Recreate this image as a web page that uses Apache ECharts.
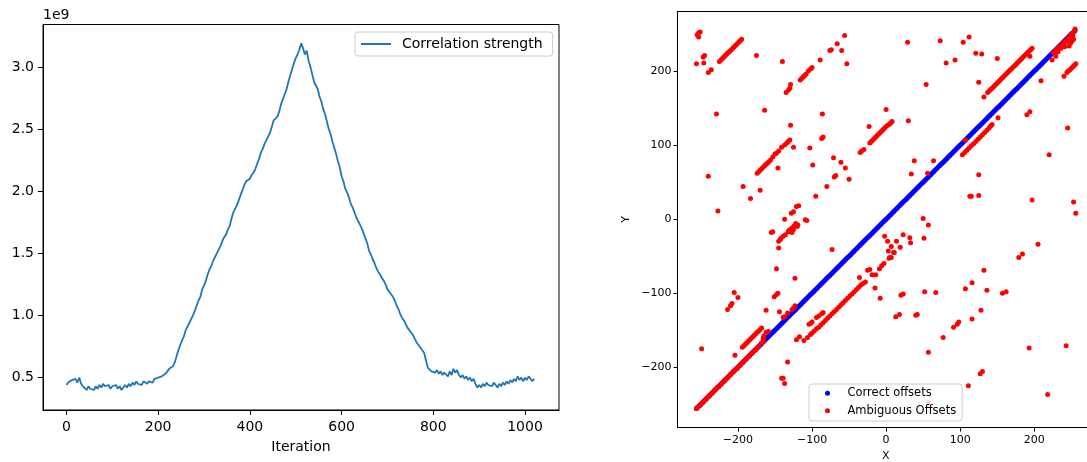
<!DOCTYPE html>
<html><head><meta charset="utf-8">
<script src="https://cdn.jsdelivr.net/npm/echarts@6/dist/echarts.min.js"></script>
<style>html,body{margin:0;padding:0;background:#fff}#c{width:1087px;height:462px}</style>
</head><body><div id="c"></div>
<script>
// ---------- Left panel data ----------
const ITER_STEP = 4; // one sample every 4 iterations
// Correlation strength, in units of 1e9
const strength = [
0.44,0.46,0.45,0.48,0.47,0.49,0.46,0.50,0.45,0.43,
0.42,0.40,0.43,0.41,0.42,0.40,0.43,0.41,0.44,0.42,
0.45,0.43,0.42,0.44,0.41,0.43,0.42,0.44,0.41,0.43,
0.40,0.42,0.44,0.42,0.45,0.43,0.46,0.44,0.47,0.45,
0.46,0.44,0.47,0.46,0.45,0.47,0.48,0.46,0.49,0.48,
0.50,0.49,0.51,0.50,0.53,0.55,0.57,0.58,0.59,0.62,
0.67,0.72,0.76,0.80,0.83,0.88,0.91,0.94,0.97,1.00,
1.04,1.08,1.12,1.15,1.21,1.24,1.28,1.33,1.37,1.40,
1.44,1.47,1.50,1.53,1.56,1.60,1.63,1.65,1.69,1.72,
1.78,1.83,1.86,1.89,1.93,1.97,2.01,2.05,2.08,2.09,
2.10,2.13,2.15,2.18,2.22,2.26,2.31,2.34,2.38,2.41,
2.44,2.47,2.52,2.57,2.58,2.60,2.64,2.70,2.74,2.78,
2.82,2.88,2.93,2.98,3.03,3.07,3.10,3.14,3.19,3.15,
3.10,3.13,3.05,3.00,2.94,2.88,2.85,2.82,2.76,2.72,
2.66,2.62,2.56,2.50,2.46,2.40,2.35,2.30,2.24,2.19,
2.12,2.08,2.02,1.99,1.95,1.90,1.87,1.83,1.79,1.76,
1.73,1.70,1.66,1.62,1.58,1.52,1.49,1.45,1.42,1.38,
1.35,1.33,1.30,1.28,1.25,1.21,1.20,1.17,1.15,1.12,
1.08,1.05,1.01,0.98,0.96,0.93,0.90,0.89,0.86,0.84,
0.81,0.78,0.76,0.74,0.73,0.70,0.64,0.58,0.57,0.55,
0.56,0.54,0.56,0.53,0.55,0.52,0.54,0.53,0.51,0.55,
0.52,0.57,0.54,0.56,0.52,0.50,0.52,0.49,0.51,0.48,
0.50,0.47,0.49,0.45,0.42,0.44,0.42,0.45,0.43,0.46,
0.44,0.45,0.43,0.46,0.44,0.42,0.45,0.43,0.46,0.44,
0.47,0.45,0.48,0.46,0.49,0.47,0.51,0.48,0.50,0.47,
0.50,0.48,0.51,0.49,0.47,0.49
];
const leftXTicks = [0,200,400,600,800,1000];
const leftYTicks = [0.5,1.0,1.5,2.0,2.5,3.0];
const leftSeriesName = 'Correlation strength';

// ---------- Right panel data ----------
const rightTicks = [-200,-100,0,100,200];
const correctOffsets = [
[-256,-256],[-254,-254],[-252,-252],[-250,-250],[-248,-248],[-246,-246],[-244,-244],[-242,-242],
[-240,-240],[-238,-238],[-236,-236],[-234,-234],[-232,-232],[-230,-230],[-228,-228],[-226,-226],
[-224,-224],[-222,-222],[-220,-220],[-218,-218],[-216,-216],[-214,-214],[-212,-212],[-210,-210],
[-208,-208],[-206,-206],[-204,-204],[-202,-202],[-200,-200],[-198,-198],[-196,-196],[-194,-194],
[-192,-192],[-190,-190],[-188,-188],[-186,-186],[-184,-184],[-182,-182],[-180,-180],[-178,-178],
[-176,-176],[-174,-174],[-172,-172],[-170,-170],[-168,-168],[-166,-166],[-164,-164],[-162,-162],
[-160,-160],[-158,-158],[-156,-156],[-154,-154],[-152,-152],[-150,-150],[-148,-148],[-146,-146],
[-144,-144],[-142,-142],[-140,-140],[-138,-138],[-136,-136],[-134,-134],[-132,-132],[-130,-130],
[-128,-128],[-126,-126],[-124,-124],[-122,-122],[-120,-120],[-118,-118],[-116,-116],[-114,-114],
[-112,-112],[-110,-110],[-108,-108],[-106,-106],[-104,-104],[-102,-102],[-100,-100],[-98,-98],
[-96,-96],[-94,-94],[-92,-92],[-90,-90],[-88,-88],[-86,-86],[-84,-84],[-82,-82],
[-80,-80],[-78,-78],[-76,-76],[-74,-74],[-72,-72],[-70,-70],[-68,-68],[-66,-66],
[-64,-64],[-62,-62],[-60,-60],[-58,-58],[-56,-56],[-54,-54],[-52,-52],[-50,-50],
[-48,-48],[-46,-46],[-44,-44],[-42,-42],[-40,-40],[-38,-38],[-36,-36],[-34,-34],
[-32,-32],[-30,-30],[-28,-28],[-26,-26],[-24,-24],[-22,-22],[-20,-20],[-18,-18],
[-16,-16],[-14,-14],[-12,-12],[-10,-10],[-8,-8],[-6,-6],[-4,-4],[-2,-2],
[0,0],[2,2],[4,4],[6,6],[8,8],[10,10],[12,12],[14,14],
[16,16],[18,18],[20,20],[22,22],[24,24],[26,26],[28,28],[30,30],
[32,32],[34,34],[36,36],[38,38],[40,40],[42,42],[44,44],[46,46],
[48,48],[50,50],[52,52],[54,54],[56,56],[58,58],[60,60],[62,62],
[64,64],[66,66],[68,68],[70,70],[72,72],[74,74],[76,76],[78,78],
[80,80],[82,82],[84,84],[86,86],[88,88],[90,90],[92,92],[94,94],
[96,96],[98,98],[100,100],[102,102],[104,104],[106,106],[108,108],[110,110],
[112,112],[114,114],[116,116],[118,118],[120,120],[122,122],[124,124],[126,126],
[128,128],[130,130],[132,132],[134,134],[136,136],[138,138],[140,140],[142,142],
[144,144],[146,146],[148,148],[150,150],[152,152],[154,154],[156,156],[158,158],
[160,160],[162,162],[164,164],[166,166],[168,168],[170,170],[172,172],[174,174],
[176,176],[178,178],[180,180],[182,182],[184,184],[186,186],[188,188],[190,190],
[192,192],[194,194],[196,196],[198,198],[200,200],[202,202],[204,204],[206,206],
[208,208],[210,210],[212,212],[214,214],[216,216],[218,218],[220,220],[222,222],
[224,224],[226,226],[228,228],[230,230],[232,232],[234,234],[236,236],[238,238],
[240,240],[242,242],[244,244],[246,246],[248,248],[250,250],[252,252],[254,254],[255,255]
];
const ambiguousOffsets = [
// lower-left run on the diagonal
[-256,-256],[-254,-254],[-252,-252],[-250,-250],[-248,-248],[-246,-246],[-244,-244],[-242,-242],
[-240,-240],[-238,-238],[-236,-236],[-234,-234],[-232,-232],[-230,-230],[-228,-228],[-226,-226],
[-224,-224],[-222,-222],[-220,-220],[-218,-218],[-216,-216],[-214,-214],[-212,-212],[-210,-210],
[-208,-208],[-206,-206],[-204,-204],[-202,-202],[-200,-200],[-198,-198],[-196,-196],[-194,-194],
[-192,-192],[-190,-190],[-188,-188],[-186,-186],[-184,-184],[-182,-182],[-180,-180],[-178,-178],
[-176,-176],[-174,-174],[-172,-172],
[-168,-167],[-166,-161],[-165,-158],[-162,-153],[-159,-152],
// top-left run
[-225,213],[-223,215],[-221,217],[-219,219],[-217,221],[-215,223],[-213,225],[-211,227],
[-209,229],[-207,231],[-205,233],[-203,235],[-201,237],[-199,239],[-197,241],[-195,243],
// run near (-150, 90)
[-174,62],[-172,64],[-170,66],[-168,68],[-166,70],[-164,72],[-162,74],[-160,76],[-158,78],
[-156,80],[-153,84],[-150,88],[-148,89],[-145,92],[-141,97],[-137,100],[-134,103],[-132,105],[-130,107],
// run near (-115, 190)
[-135,171],[-132,174],[-130,177],[-129,182],[-116,188],[-114,190],[-112,192],[-110,194],
[-108,196],[-105,200],[-102,203],[-100,205],
// run near (-10, 115)
[-35,90],[-33,92],[-30,94],[-22,103],[-20,105],[-18,107],[-16,109],[-14,111],[-12,113],
[-10,115],[-8,117],[-6,119],[-4,121],[-2,123],[0,125],[2,127],[4,128],[6,130],[8,132],
// upper-right run
[137,171],[139,173],[141,175],[143,177],[145,179],[147,181],[149,183],[151,185],[153,187],
[155,189],[157,191],[159,193],[161,195],[163,197],[165,199],[167,201],[169,203],[171,205],
[173,207],[175,209],[177,211],[179,213],[181,215],[183,217],[185,219],[187,221],[189,223],
[191,225],[193,227],[195,229],[197,231],
// run below the diagonal near (120, 105)
[103,87],[106,90],[109,93],[112,96],[115,99],[118,102],[121,105],[124,108],[127,111],
[130,114],[133,117],[136,120],[139,123],[141,126],[143,128],
// long run below the diagonal
[-111,-164],[-106,-160],[-102,-156],[-100,-154],[-97,-151],[-94,-148],[-91,-146],[-88,-143],
[-85,-140],[-82,-137],[-79,-134],[-76,-131],[-73,-128],[-70,-125],[-67,-122],[-64,-119],
[-61,-116],[-58,-113],[-55,-110],[-52,-107],[-49,-104],[-46,-101],[-43,-98],[-40,-95],
[-37,-92],[-34,-89],[-31,-87],[-28,-85],[-19,-75],[-14,-75],[-9,-67],[-6,-63],[-3,-60],
[4,-53],[5,-52],[7,-52],[11,-45],
// second run near (-100, -140)
[-121,-163],[-117,-159],[-104,-142],[-102,-141],[-100,-139],[-94,-133],[-91,-131],[-87,-128],[-85,-126],
// run near (-180, -160)
[-194,-173],[-192,-171],[-190,-169],[-188,-167],[-186,-165],[-184,-163],[-182,-161],[-180,-159],
[-178,-157],[-176,-155],[-174,-153],[-172,-151],[-170,-149],[-168,-147],
// run near (-135, -20)
[-145,-30],[-143,-28],[-142,-26],[-139,-23],[-136,-21],[-132,-17],[-129,-14],[-127,-12],
[-124,-9],[-122,-6],[-131,-15],[-127,-18],[-125,-14],[-120,-10],[-155,-18],[-153,-17],
[-128,8],[-125,10],[-121,17],[-118,18],[-137,0],[-109,-1],[-107,-2],[-119,-8],
// top-right cluster
[226,225],[228,224],[230,230],[232,226],[234,233],[236,231],[238,237],[240,236],[242,241],
[244,240],[246,245],[248,244],[250,250],[252,248],[254,254],[255,257],[251,241],[253,243],
[249,238],[247,234],[241,233],[229,220],
[240,193],[244,198],[246,200],[248,202],[250,204],[252,206],[254,208],[256,210],
// scattered points
[-255,249],[-253,252],[-251,253],[-253,246],[-256,210],[-247,219],[-245,221],[-246,211],
[-240,198],[-236,202],[-175,221],[-140,213],[-229,142],[-164,147],[-240,58],[-227,11],
[-193,44],[-183,28],[-170,39],[-146,69],[-129,127],[-125,97],[-103,96],[-99,73],[-95,31],
[-89,215],[-76,228],[-74,229],[-66,237],[-60,228],[-56,248],[-53,210],[-86,142],[-87,109],
[-85,111],[-71,83],[-61,77],[-55,69],[-50,54],[-70,57],[-68,59],[-80,44],[-23,125],[0,148],
[30,133],[29,239],[54,182],[73,241],[81,211],[93,215],[104,239],[112,246],[121,224],[129,223],
[150,217],[125,185],[132,165],[194,220],[209,187],[224,215],[151,137],[190,141],[194,145],
[245,123],[220,87],[125,60],[113,31],[115,31],[125,32],[197,26],[253,23],[256,8],[107,107],
[38,79],[64,79],[34,61],[56,62],[50,1],[57,-8],[51,-26],[32,-25],[33,-32],[23,-21],[14,-30],
[19,-38],[7,-37],[-2,-23],[2,-30],[3,-43],[10,-45],[-73,-41],[-36,-79],[-15,-93],[-8,-107],
[-25,-69],[-22,-68],[20,-103],[23,-101],[13,-132],[18,-129],[40,-130],[42,-129],[52,-98],
[67,-99],[77,-160],[57,-180],[57,-248],[205,-34],[179,-52],[184,-47],[132,-69],[116,-86],
[107,-94],[136,-96],[157,-100],[162,-98],[128,-123],[116,-135],[91,-146],[96,-142],[98,-139],
[193,-174],[243,-171],[127,-209],[130,-206],[111,-225],[218,-237],
[-162,-123],[-151,-105],[-148,-102],[-146,-100],[-148,-67],[-145,-39],[-123,-80],[-133,-193],
[-141,-215],[-139,-215],[-137,-222],[-204,-184],[-249,-175],[-214,-122],[-210,-117],[-208,-114],
[-205,-99],[-200,-106],[-144,-125],[-139,-133],[-137,-132],[-133,-127],[-127,-122],[-125,-120],
[-123,-117],[-165,-165]
];

const FONT = 'DejaVu Sans';
const minus = v => String(v).replace('-', '\u2212');

const chart = echarts.init(document.getElementById('c'), null, {renderer: 'canvas'});
const axisCommon = {
  type: 'value',
  splitLine: {show: false},
  axisLine: {show: true, onZero: false, lineStyle: {color: '#000', width: 1}},
  axisTick: {show: true, lineStyle: {color: '#000', width: 1}}
};
chart.setOption({
  animation: false,
  backgroundColor: '#fff',
  textStyle: {fontFamily: FONT},
  grid: [
    {left: 43, top: 24.5, width: 516, height: 385.5, show: true, borderColor: '#000', borderWidth: 1,
     backgroundColor: 'transparent', containLabel: false, outerBoundsMode: 'none'},
    {left: 677.5, top: 11.5, width: 416.5, height: 416, show: true, borderColor: '#000', borderWidth: 1,
     backgroundColor: 'transparent', containLabel: false, outerBoundsMode: 'none'}
  ],
  xAxis: [
    Object.assign({}, axisCommon, {
      gridIndex: 0, min: -51.15, max: 1074.15,
      axisTick: {show: true, length: 5, customValues: leftXTicks, lineStyle: {color: '#000'}},
      axisLabel: {customValues: leftXTicks, fontSize: 14, color: '#000', margin: 10, fontFamily: FONT, formatter: v => String(v)},
      name: 'Iteration', nameLocation: 'middle', nameGap: 30,
      nameTextStyle: {fontSize: 14, color: '#000', fontFamily: FONT}
    }),
    Object.assign({}, axisCommon, {
      gridIndex: 1, min: -281.55, max: 280.55,
      axisTick: {show: true, length: 4, customValues: rightTicks, lineStyle: {color: '#000'}},
      axisLabel: {customValues: rightTicks, fontSize: 11, color: '#000', margin: 7.5, fontFamily: FONT, formatter: minus},
      name: 'X', nameLocation: 'middle', nameGap: 23.5,
      nameTextStyle: {fontSize: 11, color: '#000', fontFamily: FONT}
    })
  ],
  yAxis: [
    Object.assign({}, axisCommon, {
      gridIndex: 0, min: 0.239, max: 3.341,
      axisTick: {show: true, length: 5, customValues: leftYTicks, lineStyle: {color: '#000'}},
      axisLabel: {customValues: leftYTicks, fontSize: 14, color: '#000', margin: 9, fontFamily: FONT, formatter: v => v.toFixed(1)},
      name: '1e9', nameLocation: 'end', nameGap: 2,
      nameTextStyle: {fontSize: 14, color: '#000', align: 'left', fontFamily: FONT}
    }),
    Object.assign({}, axisCommon, {
      gridIndex: 1, min: -281.55, max: 280.55,
      axisTick: {show: true, length: 4, customValues: rightTicks, lineStyle: {color: '#000'}},
      axisLabel: {customValues: rightTicks, fontSize: 11, color: '#000', margin: 6, fontFamily: FONT, formatter: minus},
      name: 'Y', nameLocation: 'middle', nameGap: 46, nameRotate: 90,
      nameTextStyle: {fontSize: 11, color: '#000', fontFamily: FONT}
    })
  ],
  legend: [
    {
      left: 355, top: 32, orient: 'horizontal', data: [leftSeriesName],
      icon: 'rect', itemWidth: 30, itemHeight: 2,
      padding: [5, 10, 5, 6],
      backgroundColor: 'rgba(255,255,255,0.8)', borderColor: '#cccccc', borderWidth: 1, borderRadius: 3,
      textStyle: {fontSize: 14, color: '#000', fontFamily: FONT, padding: [0, 0, 0, 6]}
    },
    {
      left: 809, top: 384, orient: 'vertical', data: ['Correct offsets', 'Ambiguous Offsets'],
      icon: 'circle', itemWidth: 20, itemHeight: 5, itemGap: 5,
      padding: [3, 6, 4, 16],
      backgroundColor: 'rgba(255,255,255,0.8)', borderColor: '#cccccc', borderWidth: 1, borderRadius: 3,
      textStyle: {fontSize: 11.5, lineHeight: 12.5, color: '#000', fontFamily: FONT, padding: [0, 0, 0, 5]}
    }
  ],
  series: [
    {
      name: leftSeriesName, type: 'line', xAxisIndex: 0, yAxisIndex: 0,
      data: strength.map((v, i) => [i * ITER_STEP, v]),
      showSymbol: false, symbol: 'none',
      lineStyle: {color: '#1f77b4', width: 1.8}, itemStyle: {color: '#1f77b4'}
    },
    {
      name: 'Correct offsets', type: 'scatter', xAxisIndex: 1, yAxisIndex: 1,
      data: correctOffsets, symbolSize: 5, itemStyle: {color: '#0000ff', opacity: 1}
    },
    {
      name: 'Ambiguous Offsets', type: 'scatter', xAxisIndex: 1, yAxisIndex: 1,
      data: ambiguousOffsets, symbolSize: 5, itemStyle: {color: '#ff0000', opacity: 1}
    }
  ]
});
</script>
</body></html>
